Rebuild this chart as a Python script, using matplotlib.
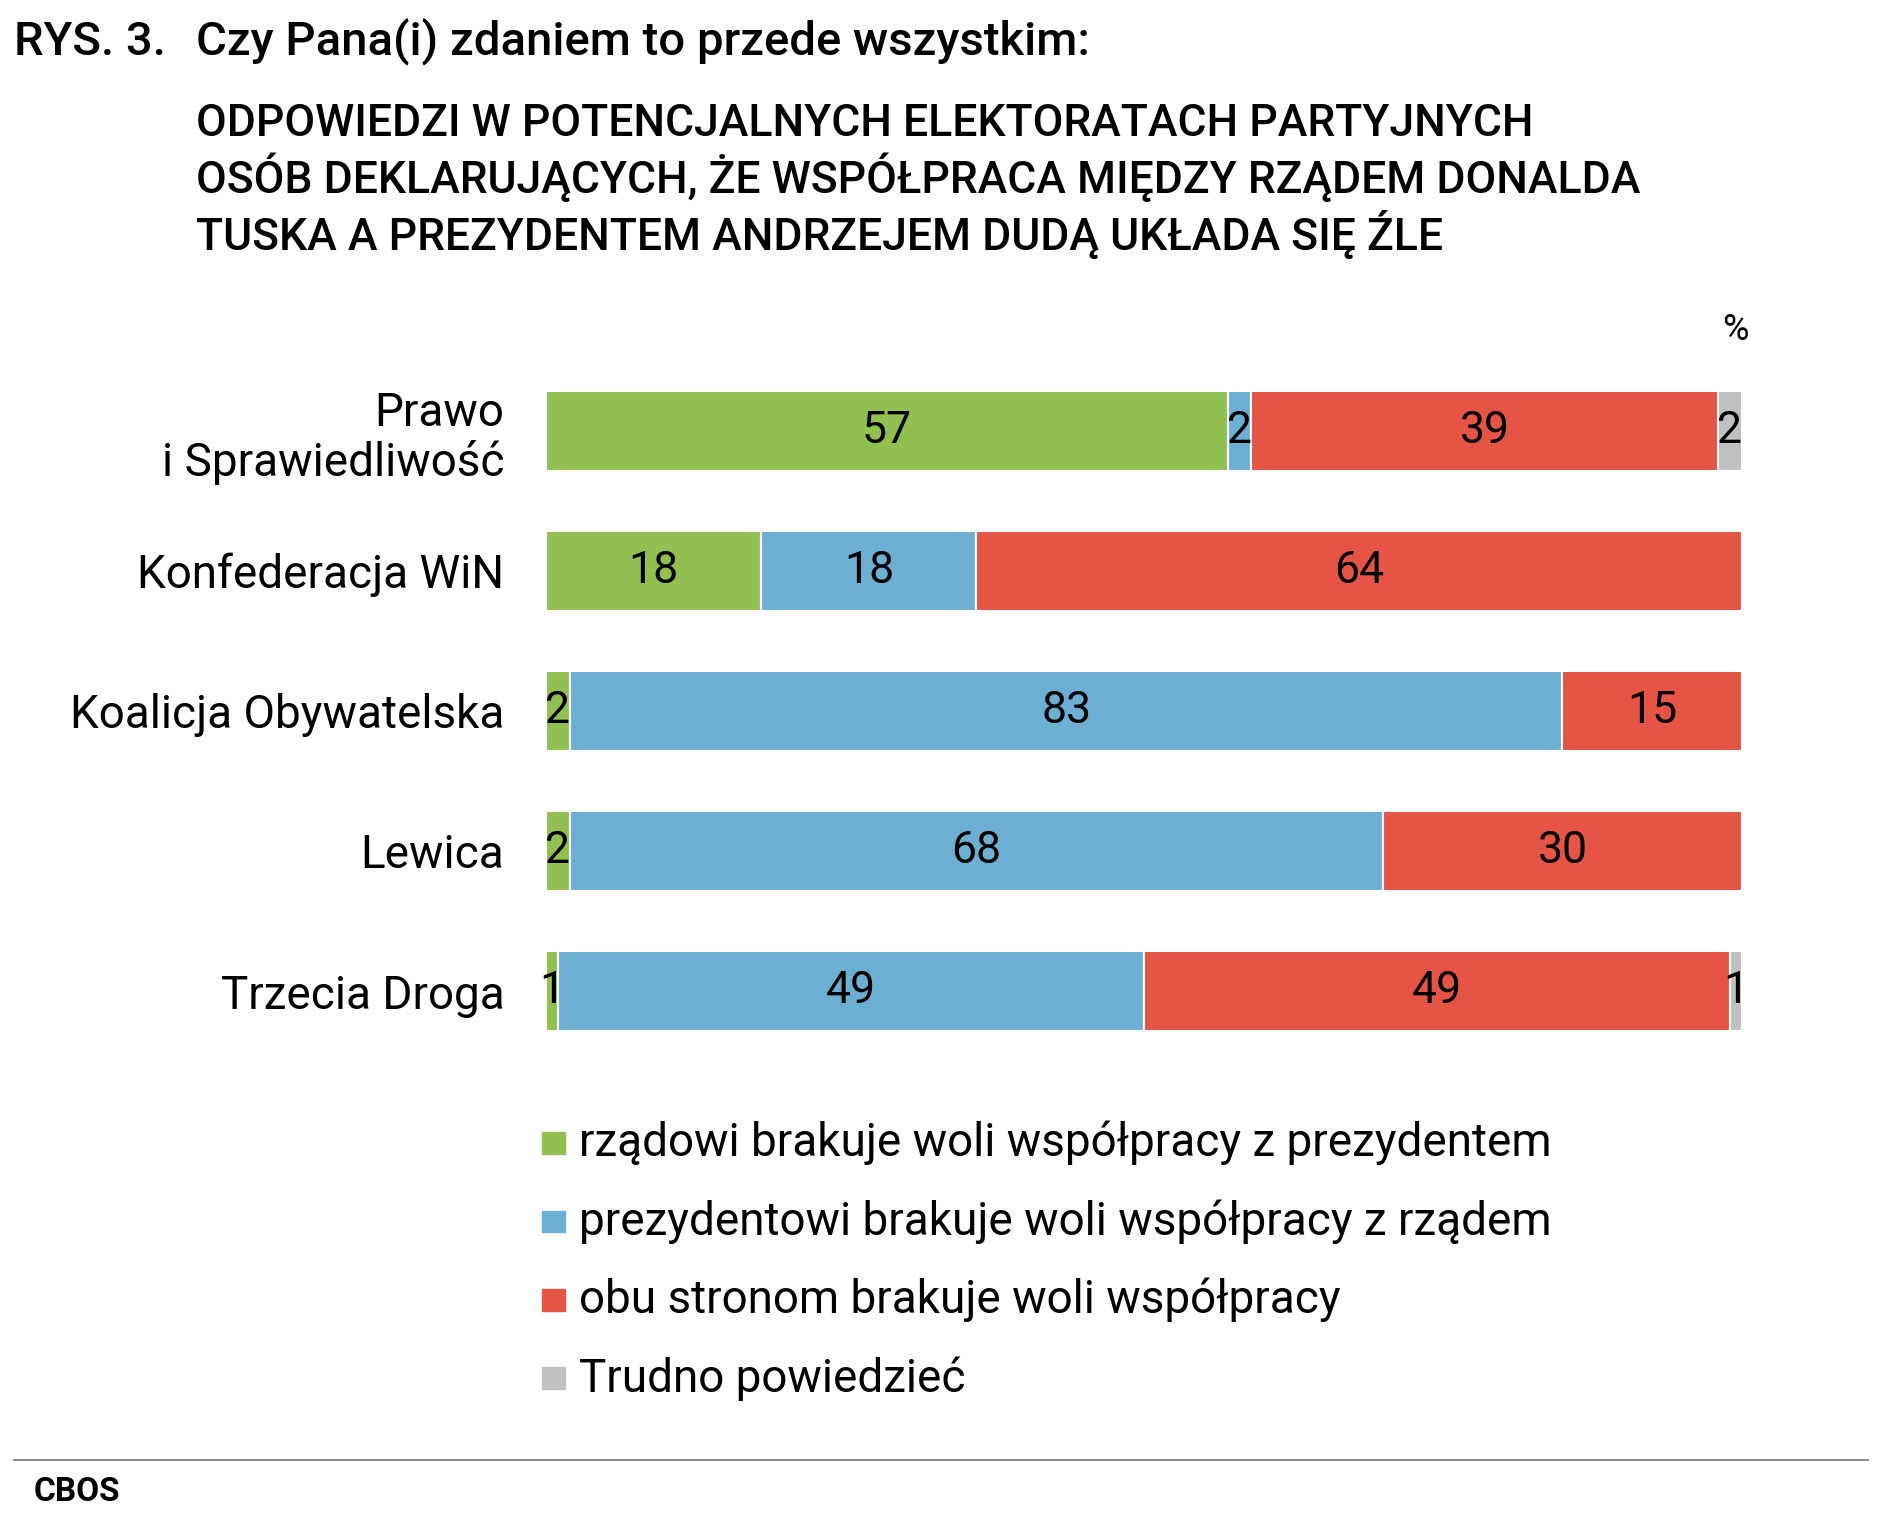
import matplotlib
matplotlib.use("Agg")
import matplotlib.pyplot as plt
from matplotlib.patches import Rectangle
from matplotlib.lines import Line2D

plt.rcParams["font.family"] = "Roboto"

categories = ["Prawo\ni Sprawiedliwość", "Konfederacja WiN", "Koalicja Obywatelska", "Lewica", "Trzecia Droga"]
series_names = ["rządowi brakuje woli współpracy z prezydentem",
                "prezydentowi brakuje woli współpracy z rządem",
                "obu stronom brakuje woli współpracy",
                "Trudno powiedzieć"]
green = [57, 18, 2, 2, 1]
blue = [2, 18, 83, 68, 49]
red = [39, 64, 15, 30, 49]
grey = [2, 0, 0, 0, 1]
series = [green, blue, red, grey]
colors = ["#92c050", "#6cafd3", "#e55444", "#c0c0c0"]

W, H = 1568, 1263
fig = plt.figure(figsize=(18.9, 15.23), dpi=100)
def fx(x): return x / W
def fy(y): return 1 - y / H

ax = fig.add_axes([fx(453), fy(880), fx(1445) - fx(453), fy(299) - fy(880)])
ypos = list(range(len(categories)))
left = [0] * len(categories)
for vals, c in zip(series, colors):
    ax.barh(ypos, vals, left=left, color=c, height=0.57, edgecolor="white", linewidth=1.5)
    for i, v in enumerate(vals):
        if v > 0:
            ax.text(left[i] + v / 2, i, str(v), ha="center", va="center", fontsize=32, color="black")
    left = [l + v for l, v in zip(left, vals)]
ax.set_xlim(0, 100)
ax.set_ylim(len(categories) - 0.5, -0.5)
ax.set_yticks(ypos)
ax.set_yticklabels(categories, fontsize=33, ha="right", linespacing=1.15)
ax.tick_params(axis="y", length=0, pad=30)
ax.set_xticks([])
for s in ax.spines.values():
    s.set_visible(False)

fig.text(fx(12), fy(35), "RYS. 3.", fontsize=34, fontweight="medium", va="center", ha="left")
fig.text(fx(163), fy(35), "Czy Pana(i) zdaniem to przede wszystkim:", fontsize=34, fontweight="medium", va="center", ha="left")
fig.text(fx(163), fy(150), "ODPOWIEDZI W POTENCJALNYCH ELEKTORATACH PARTYJNYCH\nOSÓB DEKLARUJĄCYCH, ŻE WSPÓŁPRACA MIĘDZY RZĄDEM DONALDA\nTUSKA A PREZYDENTEM ANDRZEJEM DUDĄ UKŁADA SIĘ ŹLE",
         fontsize=32, fontweight="medium", va="center", ha="left", linespacing=1.2)
fig.text(fx(1440), fy(274), "%", fontsize=26, ha="center", va="center")

for k, (name, c) in enumerate(zip(series_names, colors)):
    y = 948 + 65 * k
    fig.add_artist(Rectangle((fx(450), fy(y + 9)), fx(469) - fx(450), fy(y - 9) - fy(y + 9),
                             transform=fig.transFigure, color=c))
    fig.text(fx(480), fy(y), name, fontsize=33, va="center", ha="left")

fig.add_artist(Line2D([fx(12), fx(1550)], [fy(1211), fy(1211)], transform=fig.transFigure, color="#777777", lw=1.2))
fig.text(fx(28), fy(1237), "CBOS", fontsize=24, fontweight="bold", va="center", ha="left")

fig.savefig("out.png", dpi=100, facecolor="white")
